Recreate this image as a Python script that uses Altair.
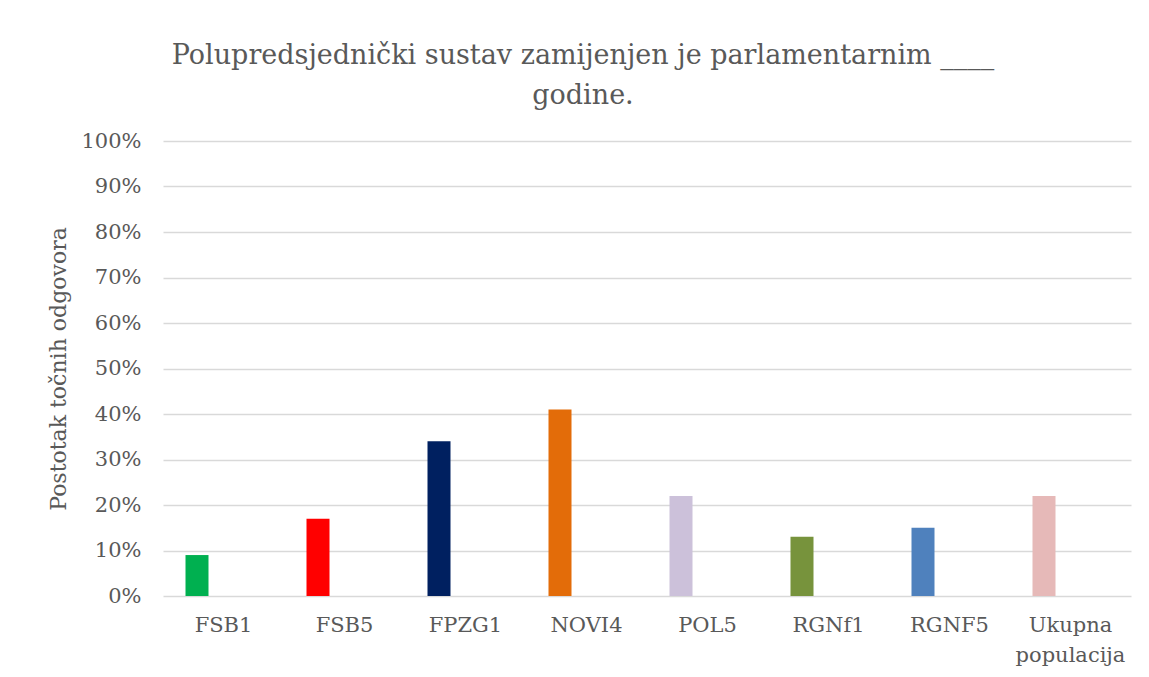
import altair as alt
import pandas as pd

categories = ["FSB1", "FSB5", "FPZG1", "NOVI4", "POL5", "RGNf1", "RGNF5", "Ukupna populacija"]
values = [0.09, 0.17, 0.34, 0.41, 0.22, 0.13, 0.15, 0.22]
colors = ["#00B050", "#FF0000", "#002060", "#E36C09", "#CCC1DA", "#77933C", "#4F81BD", "#E6B9B8"]
y_ticks = [0, 0.1, 0.2, 0.3, 0.4, 0.5, 0.6, 0.7, 0.8, 0.9, 1.0]

df = pd.DataFrame({"kategorija": categories, "vrijednost": values})

FONT = "DejaVu Serif"
TXT = "#595959"

chart = (
    alt.Chart(df)
    .mark_bar(width=23, xOffset=-26.5)
    .encode(
        x=alt.X(
            "kategorija:N",
            sort=categories,
            scale=alt.Scale(paddingInner=0, paddingOuter=0),
            axis=alt.Axis(
                title=None,
                labelAngle=0,
                labelFont=FONT,
                labelFontSize=21,
                labelColor=TXT,
                labelPadding=18,
                labelLineHeight=30,
                labelExpr="split(datum.label, ' ')",
                ticks=False,
                domain=False,
                grid=False,
            ),
        ),
        y=alt.Y(
            "vrijednost:Q",
            scale=alt.Scale(domain=[0, 1], nice=False),
            axis=alt.Axis(
                title="Postotak točnih odgovora",
                titleFont=FONT,
                titleFontSize=22,
                titleFontWeight="normal",
                titleColor=TXT,
                titlePadding=10,
                values=y_ticks,
                format=".0%",
                labelFont=FONT,
                labelFontSize=21,
                labelColor=TXT,
                labelPadding=22,
                ticks=False,
                domain=False,
                grid=True,
                gridColor="#D9D9D9",
                gridWidth=1.5,
            ),
        ),
        color=alt.Color(
            "kategorija:N",
            scale=alt.Scale(domain=categories, range=colors),
            legend=None,
        ),
    )
    .properties(
        width=968,
        height=455,
        background="white",
        title=alt.TitleParams(
            text=["Polupredsjednički sustav zamijenjen je parlamentarnim ____", "godine."],
            font=FONT,
            fontSize=27,
            fontWeight="normal",
            color=TXT,
            lineHeight=40,
            anchor="middle",
            dx=-64,
            offset=20,
        ),
        autosize=alt.AutoSizeParams(type="none"),
        padding={"left": 155, "top": 133, "right": 10, "bottom": 70},
    )
    .configure_view(stroke="transparent", strokeWidth=0)
)

chart.save("out.html", embed_options={"renderer": "svg", "actions": False})
